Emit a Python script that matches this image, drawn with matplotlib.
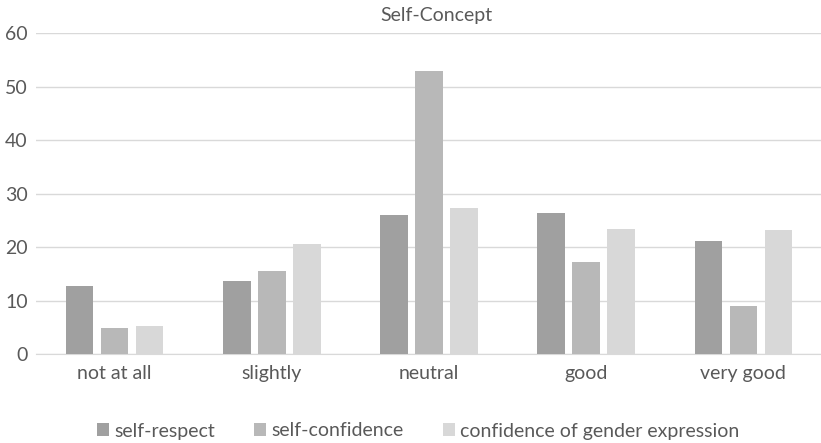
import matplotlib
matplotlib.use('Agg')
import matplotlib.pyplot as plt
import numpy as np

categories = ['not at all', 'slightly', 'neutral', 'good', 'very good']
series_names = ['self-respect', 'self-confidence', 'confidence of gender expression']
self_respect = [12.8, 13.7, 26.0, 26.4, 21.2]
self_confidence = [5.0, 15.6, 52.9, 17.3, 9.0]
gender_expression = [5.3, 20.6, 27.4, 23.4, 23.3]
colors = ['#a0a0a0', '#b8b8b8', '#d8d8d8']

text_color = '#595959'
plt.rcParams['font.family'] = ['Lato', 'DejaVu Sans']

fig = plt.figure(figsize=(8.21, 4.43), dpi=100)
ax = fig.add_axes([36 / 821, 1 - 354.3 / 443, 786 / 821, (354.3 - 33) / 443])

x = np.arange(len(categories))
width = 0.176
pitch = 0.2225
for i, (vals, name) in enumerate(zip([self_respect, self_confidence, gender_expression], series_names)):
    ax.bar(x + (i - 1) * pitch, vals, width, color=colors[i], label=name, zorder=3)

ax.set_xlim(-0.5, len(categories) - 0.5)
ax.set_ylim(0, 60)
ax.set_yticks(range(0, 61, 10))
ax.set_xticks(x)
ax.set_xticklabels(categories)
ax.grid(axis='y', color='#d9d9d9', linewidth=1, zorder=0)
for side in ['top', 'right', 'left']:
    ax.spines[side].set_visible(False)
ax.spines['bottom'].set_color('#d9d9d9')
ax.tick_params(axis='both', length=0, colors=text_color, labelsize=14)
ax.tick_params(axis='y', pad=6)
ax.tick_params(axis='x', pad=8)

fig.text(436 / 821, 1 - 15 / 443, 'Self-Concept', ha='center', va='center',
         fontsize=14, color=text_color)

leg = fig.legend(loc='center', bbox_to_anchor=(418 / 821, 1 - 431 / 443), ncol=3,
                 frameon=False, fontsize=14, handlelength=0.62, handleheight=0.62,
                 handletextpad=0.28, columnspacing=2.0, borderpad=0)
for t in leg.get_texts():
    t.set_color(text_color)

fig.savefig('out.png', dpi=100)
